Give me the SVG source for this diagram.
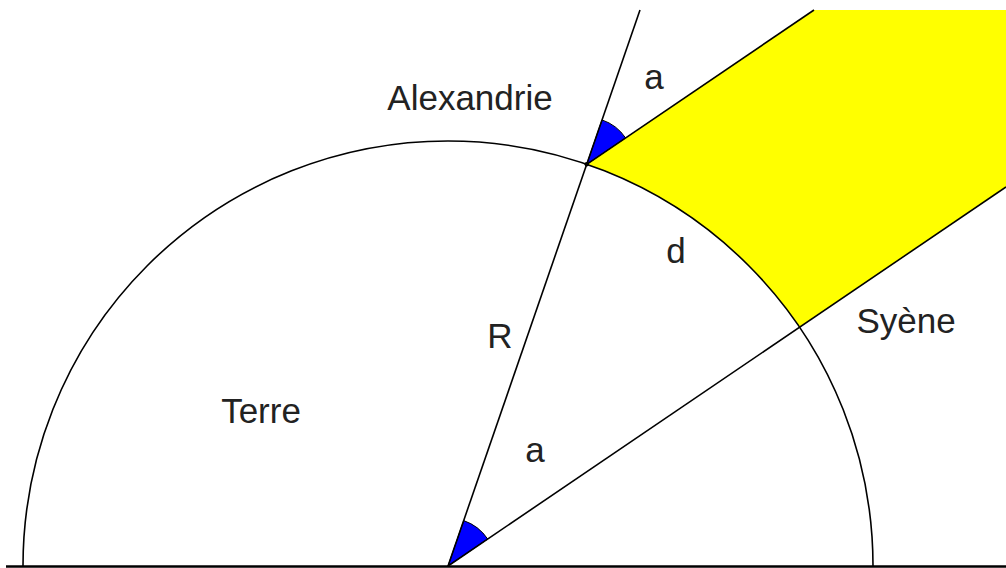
<svg xmlns="http://www.w3.org/2000/svg" width="1006" height="568" viewBox="0 0 1006 568">
<style>
.ln{fill:none;stroke:#000;stroke-width:1.6}
.lbl{font-family:"Liberation Sans",Arial,sans-serif;font-size:35px;fill:#222;text-anchor:middle}
.ang{fill:#0000ff;stroke:#000;stroke-width:1}
</style>
<rect x="0" y="0" width="1006" height="568" fill="#fff"/>
<g id="rays">
<path d="M586.7 164.3 L814 10 L1006 10 L1006 187 L799.6 327.3 A425 425 0 0 0 586.7 164.3 Z" fill="#ffff00"/>
</g>
<g id="angle-center">
<path class="ang" d="M448 566 L487.7 539 A48 48 0 0 0 463.7 520.6 Z"/>
</g>
<g id="angle-alexandrie">
<path class="ang" d="M586.7 164.3 L625.6 137.9 A47 47 0 0 0 602 119.9 Z"/>
</g>
<g id="terre">
<path class="ln" d="M23 566 A425 425 0 0 1 873 566"/>
</g>
<g id="connectors">
<line class="ln" x1="6" y1="566.5" x2="1006" y2="566.5" style="stroke-width:2.5"/>
<line class="ln" x1="448" y1="566" x2="640" y2="10"/>
<line class="ln" x1="448" y1="566" x2="1006" y2="187"/>
<line class="ln" x1="586.7" y1="164.3" x2="814" y2="10"/>
</g>
<g id="alexandrie-point">
<circle cx="586.7" cy="164.3" r="2.2" fill="#000"/>
</g>
<g id="labels">
<text class="lbl" x="470" y="110">Alexandrie</text>
<text class="lbl" x="654" y="89">a</text>
<text class="lbl" x="676" y="263">d</text>
<text class="lbl" x="500" y="348">R</text>
<text class="lbl" x="261" y="423">Terre</text>
<text class="lbl" x="535" y="462">a</text>
<text class="lbl" x="906" y="333">Syène</text>
</g>
</svg>
